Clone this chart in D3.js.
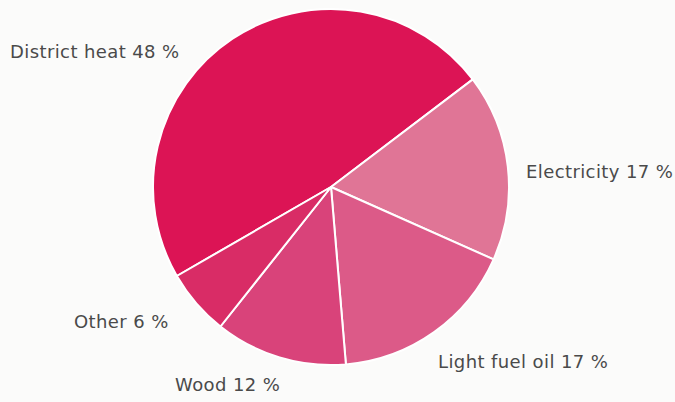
<!DOCTYPE html>
<html>
<head>
<meta charset="utf-8">
<script src="https://cdn.jsdelivr.net/npm/d3@7"></script>
<style>
  html, body { margin: 0; padding: 0; background: #fbfbfa; }
  svg { display: block; }
</style>
</head>
<body>
<svg id="chart" width="675" height="402"></svg>
<script>
// Heating energy sources, share of total (%)
const categories = ["District heat", "Electricity", "Light fuel oil", "Wood", "Other"];
const shares = [48, 17, 17, 12, 6];
const sliceColors = ["#dc1455", "#e07596", "#dc5a88", "#d9437a", "#d92c66"];

const width = 675, height = 402;
const cx = 331, cy = 187, radius = 178;

const svg = d3.select("#chart");
svg.append("rect").attr("width", width).attr("height", height).attr("fill", "#fbfbfa");

const pie = d3.pie()
  .sort(null)
  .value(d => d.value)
  .startAngle(-2 * Math.PI / 3)
  .endAngle(4 * Math.PI / 3);

const data = categories.map((c, i) => ({ name: c, value: shares[i] }));
const arcs = pie(data);
const arc = d3.arc().innerRadius(0).outerRadius(radius);

const g = svg.append("g").attr("transform", `translate(${cx},${cy})`);
g.selectAll("path")
  .data(arcs)
  .join("path")
  .attr("d", arc)
  .attr("fill", (d, i) => sliceColors[i])
  .attr("stroke", "#ffffff")
  .attr("stroke-width", 2)
  .attr("stroke-linejoin", "round");

// Label positions beside each slice
const labelPos = [
  { x: 10, y: 58 },
  { x: 526, y: 178 },
  { x: 438, y: 368 },
  { x: 175, y: 391 },
  { x: 74, y: 328 }
];

svg.selectAll("text.label")
  .data(arcs)
  .join("text")
  .attr("class", "label")
  .attr("x", (d, i) => labelPos[i].x)
  .attr("y", (d, i) => labelPos[i].y)
  .attr("text-anchor", "start")
  .attr("font-family", "DejaVu Sans, Verdana, sans-serif")
  .attr("font-size", 18)
  .attr("letter-spacing", 0.4)
  .attr("fill", "#4a4a4a")
  .text(d => `${d.data.name} ${d.data.value} %`);
</script>
</body>
</html>
